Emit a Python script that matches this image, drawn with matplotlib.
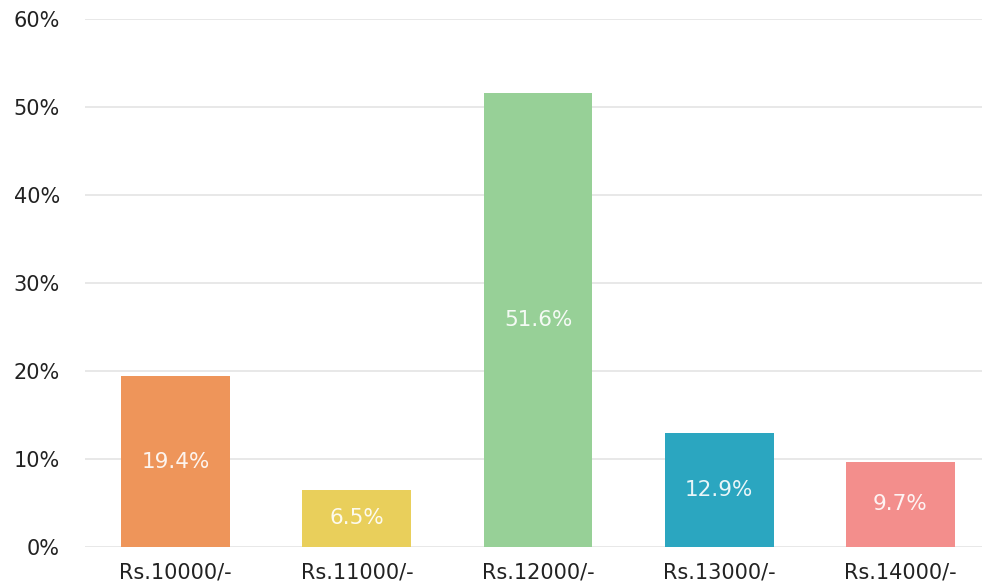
import matplotlib
matplotlib.use('Agg')
import matplotlib.pyplot as plt

# data
categories = ['Rs.10000/-', 'Rs.11000/-', 'Rs.12000/-', 'Rs.13000/-', 'Rs.14000/-']
values = [19.4, 6.5, 51.6, 12.9, 9.7]
colors = ['#EE955A', '#E9CF5B', '#97D097', '#2BA6C0', '#F38E8C']
yticks = [0, 10, 20, 30, 40, 50, 60]

fig = plt.figure(figsize=(9.82, 5.85), dpi=100)
ax = fig.add_axes([85/982, 38/585, 1 - 85/982, (547-19)/585])

x = range(len(categories))
ax.bar(x, values, width=0.6, color=colors, zorder=3)

for i, v in enumerate(values):
    ax.text(i, v/2, '{:.1f}%'.format(v), color='white', alpha=0.9,
            ha='center', va='center', fontsize=15.5, zorder=4)

ax.set_ylim(0, 60)
ax.set_xlim(-0.5, 4.45)
ax.set_yticks(yticks)
ax.set_yticklabels(['{}%'.format(t) for t in yticks])
ax.set_xticks(list(x))
ax.set_xticklabels(categories)
ax.tick_params(axis='both', length=0, labelsize=15, labelcolor='#222222')
ax.tick_params(axis='y', pad=18)
ax.tick_params(axis='x', pad=11)

ax.grid(axis='y', color='#e6e6e6', linewidth=1.3, zorder=0)
for s in ax.spines.values():
    s.set_visible(False)

fig.savefig('out.png', dpi=100)
